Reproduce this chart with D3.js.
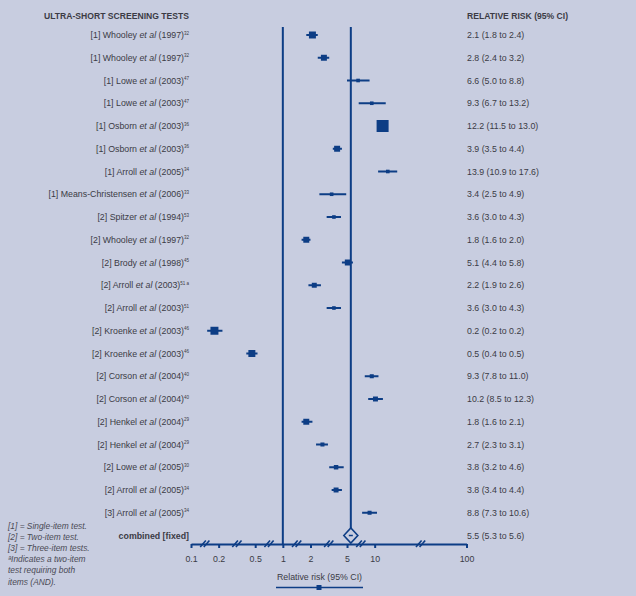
<!DOCTYPE html>
<html><head><meta charset="utf-8">
<script src="https://cdn.jsdelivr.net/npm/d3@7"></script>
<style>
html,body{margin:0;padding:0;background:#c8cde0;}
svg{display:block;font-family:"Liberation Sans",Arial,Helvetica,sans-serif;}
</style></head>
<body>
<script>
// ---- data ----
const groups   = ["[1]","[1]","[1]","[1]","[1]","[1]","[1]","[1]","[2]","[2]","[2]","[2]","[2]","[2]","[2]","[2]","[2]","[2]","[2]","[2]","[2]","[3]"];
const authors  = ["Whooley","Whooley","Lowe","Lowe","Osborn","Osborn","Arroll","Means-Christensen","Spitzer","Whooley","Brody","Arroll","Arroll","Kroenke","Kroenke","Corson","Corson","Henkel","Henkel","Lowe","Arroll","Arroll"];
const years    = ["1997","1997","2003","2003","2003","2003","2005","2006","1994","1997","1998","2003","2003","2003","2003","2004","2004","2004","2004","2005","2005","2005"];
const refs     = ["32","32","47","47","36","36","34","33","53","32","45","51 a","51","46","46","40","40","29","29","30","34","34"];
const rr       = [2.1,2.8,6.6,9.3,12.2,3.9,13.9,3.4,3.6,1.8,5.1,2.2,3.6,0.18,0.46,9.3,10.2,1.8,2.7,3.8,3.8,8.8];
const lower    = [1.8,2.4,5.0,6.7,11.5,3.5,10.9,2.5,3.0,1.6,4.4,1.9,3.0,0.15,0.40,7.8,8.5,1.6,2.3,3.2,3.4,7.3];
const upper    = [2.4,3.2,8.8,13.2,13.0,4.4,17.6,4.9,4.3,2.0,5.8,2.6,4.3,0.22,0.53,11.0,12.3,2.1,3.1,4.6,4.4,10.6];
const weights  = [7.5,5.5,1.8,1.4,22.2,5.5,1.4,1.4,1.8,5.5,5.5,3.8,0.9,9.8,7.5,2.5,3.8,5.5,2.5,3.1,3.8,2.5];
const ciLabels = ["2.1 (1.8 to 2.4)","2.8 (2.4 to 3.2)","6.6 (5.0 to 8.8)","9.3 (6.7 to 13.2)","12.2 (11.5 to 13.0)","3.9 (3.5 to 4.4)","13.9 (10.9 to 17.6)","3.4 (2.5 to 4.9)","3.6 (3.0 to 4.3)","1.8 (1.6 to 2.0)","5.1 (4.4 to 5.8)","2.2 (1.9 to 2.6)","3.6 (3.0 to 4.3)","0.2 (0.2 to 0.2)","0.5 (0.4 to 0.5)","9.3 (7.8 to 11.0)","10.2 (8.5 to 12.3)","1.8 (1.6 to 2.1)","2.7 (2.3 to 3.1)","3.8 (3.2 to 4.6)","3.8 (3.4 to 4.4)","8.8 (7.3 to 10.6)"];
const pooled   = {rr:5.5, lo:5.3, hi:5.6, label:"5.5 (5.3 to 5.6)", name:"combined [fixed]"};
const tickVals = [0.1,0.2,0.5,1,2,5,10,100];
const footnotes = ["[1] = Single-item test.","[2] = Two-item test.","[3] = Three-item tests.","\u00aaIndicates a two-item","test requiring both","items (AND)."];

// ---- layout ----
const W=636,H=596, blue="#0d3d85", txt="#3b3b45";
const svg=d3.select("body").append("svg").attr("width",W).attr("height",H);
svg.append("rect").attr("width",W).attr("height",H).attr("fill","#c8cde0");

const x=d3.scaleLog().domain([0.1,100]).range([191,466.5]);
const n=rr.length;
const y=d3.scaleLinear().domain([0,n]).range([35,35+n*22.75]);
const size=d3.scaleSqrt().domain([0,d3.max(weights)]).range([0,12]);
const side=i=>Math.max(3.6,size(weights[i]));
const axisY=544;

// headers
svg.append("text").attr("x",189).attr("y",19).attr("text-anchor","end")
  .attr("font-size",8.6).attr("font-weight","bold").attr("fill",txt).text("ULTRA-SHORT SCREENING TESTS");
svg.append("text").attr("x",467).attr("y",19)
  .attr("font-size",8.6).attr("font-weight","bold").attr("fill",txt).text("RELATIVE RISK (95% CI)");

// study labels
const lab=svg.append("g").attr("font-size",8.8).attr("fill",txt);
d3.range(n).forEach(i=>{
  const t=lab.append("text").attr("x",189).attr("y",y(i)+3.2).attr("text-anchor","end");
  t.append("tspan").text(groups[i]+" "+authors[i]+" ");
  t.append("tspan").attr("font-style","italic").text("et al");
  t.append("tspan").text(" ("+years[i]+")");
  t.append("tspan").attr("font-size",4.5).attr("dy",-3.5).text(refs[i]);
  svg.append("text").attr("x",467).attr("y",y(i)+3.2).attr("font-size",8.8).attr("fill",txt).text(ciLabels[i]);
});
svg.append("text").attr("x",189).attr("y",y(n)+3.2).attr("text-anchor","end")
  .attr("font-size",8.8).attr("font-weight","bold").attr("fill",txt).text(pooled.name);
svg.append("text").attr("x",467).attr("y",y(n)+3.2).attr("font-size",8.8).attr("fill",txt).text(pooled.label);

// reference lines
svg.append("line").attr("x1",x(1)).attr("x2",x(1)).attr("y1",27).attr("y2",axisY)
  .attr("stroke",blue).attr("stroke-width",2);
const dh=7.5;
svg.append("line").attr("x1",x(pooled.rr)).attr("x2",x(pooled.rr)).attr("y1",27).attr("y2",y(n)-dh)
  .attr("stroke",blue).attr("stroke-width",2);

// CI whiskers & squares
const g=svg.append("g");
g.selectAll("line.ci").data(d3.range(n)).join("line").attr("class","ci")
  .attr("x1",i=>x(lower[i])).attr("x2",i=>x(upper[i])).attr("y1",i=>y(i)).attr("y2",i=>y(i))
  .attr("stroke",blue).attr("stroke-width",2);
g.selectAll("rect.sq").data(d3.range(n)).join("rect").attr("class","sq")
  .attr("x",i=>x(rr[i])-side(i)/2)
  .attr("y",i=>y(i)-side(i)/2)
  .attr("width",side)
  .attr("height",side)
  .attr("fill",blue);

// pooled diamond
const cx=x(pooled.rr), cy=y(n);
svg.append("path").attr("d",`M${cx-7},${cy}L${cx},${cy-dh}L${cx+7},${cy}L${cx},${cy+dh}Z`)
  .attr("fill","#c8cde0").attr("stroke",blue).attr("stroke-width",1.6);
svg.append("line").attr("x1",Math.min(x(pooled.lo),cx-2)).attr("x2",Math.max(x(pooled.hi),cx+2))
  .attr("y1",cy).attr("y2",cy).attr("stroke",blue).attr("stroke-width",1.5);

// axis
const ax=svg.append("g").attr("transform",`translate(0,${axisY})`)
  .call(d3.axisBottom(x).tickValues(tickVals).tickFormat(d3.format("~g")).tickSize(4).tickSizeOuter(0));
ax.select(".domain").attr("stroke",blue).attr("stroke-width",2);
ax.selectAll(".tick line").attr("stroke",blue).attr("stroke-width",2);
ax.selectAll(".tick text").attr("fill",txt).attr("font-size",8.8).attr("font-family","'Liberation Sans',Arial,sans-serif").attr("dy","1.2em");
// break marks between ticks
const breaks=d3.pairs(tickVals).map(([a,b])=>Math.sqrt(a*b));
breaks.forEach(v=>{
  [-1.8,1.8].forEach(off=>{
    svg.append("line").attr("x1",x(v)+off-2.8).attr("y1",axisY+3).attr("x2",x(v)+off+2.8).attr("y2",axisY-3.5)
      .attr("stroke",blue).attr("stroke-width",1.6);
  });
});

// x label & legend
svg.append("text").attr("x",319.5).attr("y",580).attr("text-anchor","middle")
  .attr("font-size",8.8).attr("fill",txt).text("Relative risk (95% CI)");
svg.append("line").attr("x1",276).attr("x2",363).attr("y1",587.5).attr("y2",587.5).attr("stroke",blue).attr("stroke-width",1.5);
svg.append("rect").attr("x",316.5).attr("y",585).attr("width",5).attr("height",5).attr("fill",blue);

// footnotes
svg.append("g").selectAll("text").data(footnotes).join("text")
  .attr("x",8).attr("y",(d,i)=>529+i*11.1).attr("font-size",8.4).attr("font-style","italic")
  .attr("fill","#4a4a55").text(d=>d);
</script>
</body></html>
